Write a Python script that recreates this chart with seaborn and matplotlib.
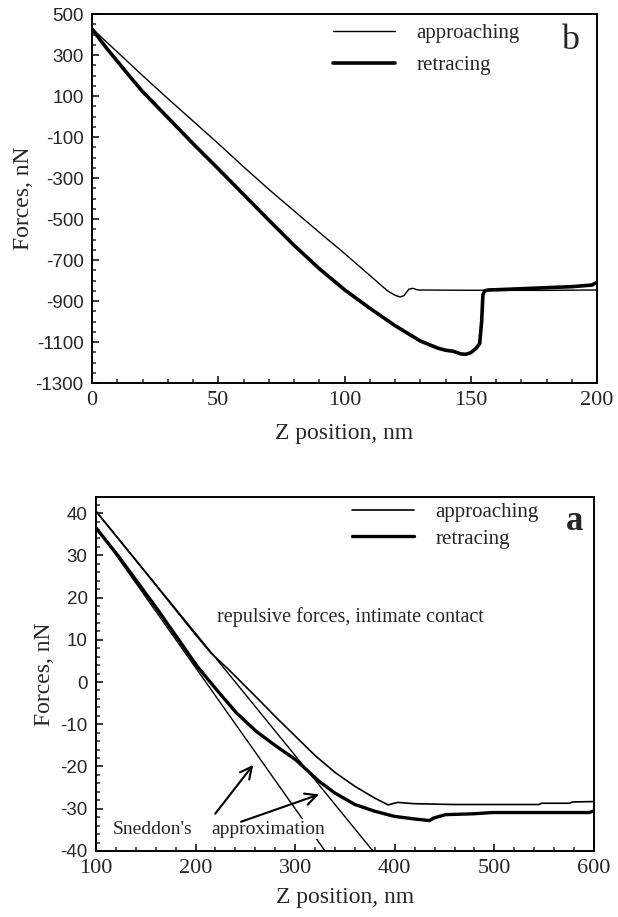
import seaborn as sns
import matplotlib.pyplot as plt
import numpy as np

# ---- panel b (top) ----
b_app_z = [0, 5, 10, 20, 30, 40, 50, 60, 70, 80, 90, 100, 110, 117, 120, 122, 123.5, 124.5, 125.5, 127, 129, 140, 160, 180, 200]
b_app_f = [430, 372, 315, 200, 88, -22, -132, -245, -355, -460, -565, -668, -775, -850, -872, -880, -874, -858, -842, -838, -846, -847, -848, -848, -846]
b_ret_z = [0, 3, 6, 10, 15, 20, 30, 40, 50, 60, 70, 80, 90, 100, 110, 120, 130, 137, 140, 143, 146, 148, 150, 152, 153.5, 154.3, 154.8, 155.5, 157, 160, 170, 180, 190, 198, 200]
b_ret_f = [428, 378, 330, 270, 195, 122, -5, -132, -255, -380, -505, -628, -742, -845, -935, -1020, -1095, -1130, -1140, -1145, -1158, -1160, -1152, -1132, -1108, -1000, -870, -850, -846, -845, -840, -835, -830, -822, -808]

# ---- panel a (bottom) ----
a_app_z = [100, 150, 200, 215, 233, 250, 261, 281, 300.5, 320, 340, 360, 380, 393.5, 399.5, 403, 419, 459, 545, 547, 576, 578, 600]
a_app_f = [40.4, 25.9, 11.2, 7.0, 3.0, -1.0, -3.6, -8.4, -12.9, -17.4, -21.4, -24.7, -27.5, -29.1, -28.7, -28.5, -28.8, -29.0, -29.0, -28.7, -28.7, -28.4, -28.3]
a_ret_z = [100, 122.5, 162, 201.7, 221, 241, 261, 281, 300.5, 324, 340, 360, 380, 399.5, 419, 435, 439, 451, 478.5, 498, 550, 595, 600]
a_ret_f = [36.5, 29.8, 17.1, 3.7, -1.8, -7.3, -11.7, -15.2, -18.4, -23.5, -26.3, -29.0, -30.6, -31.8, -32.4, -32.8, -32.2, -31.4, -31.2, -30.9, -30.9, -30.9, -30.5]
sneddon1_z = [100, 330]
sneddon1_f = [36.8, -40]
sneddon2_z = [100, 378]
sneddon2_f = [40.5, -40]

sns.set_theme(style='ticks')
plt.rcParams['font.family'] = ['Liberation Serif', 'DejaVu Serif']
plt.rcParams['axes.linewidth'] = 1.4
plt.rcParams['axes.unicode_minus'] = False

fig = plt.figure(figsize=(6.18, 9.17), dpi=100)
ax1 = fig.add_axes([0.1489, 0.5823, 0.8172, 0.4024])
ax2 = fig.add_axes([0.1553, 0.0720, 0.8058, 0.3860])

sns.lineplot(x=b_app_z, y=b_app_f, ax=ax1, color='black', linewidth=1.0, sort=False, estimator=None, label='approaching')
sns.lineplot(x=b_ret_z, y=b_ret_f, ax=ax1, color='black', linewidth=2.6, sort=False, estimator=None, label='retracing')

sns.lineplot(x=a_app_z, y=a_app_f, ax=ax2, color='black', linewidth=1.2, sort=False, estimator=None, label='approaching')
sns.lineplot(x=a_ret_z, y=a_ret_f, ax=ax2, color='black', linewidth=2.4, sort=False, estimator=None, label='retracing')
sns.lineplot(x=sneddon1_z, y=sneddon1_f, ax=ax2, color='black', linewidth=1.0, estimator=None)
sns.lineplot(x=sneddon2_z, y=sneddon2_f, ax=ax2, color='black', linewidth=1.0, estimator=None)

ax1.set_xlim(0, 200)
ax1.set_ylim(-1300, 500)
ax1.set_xticks(np.arange(0, 201, 50))
ax1.set_xticks(np.arange(0, 201, 10), minor=True)
ax1.set_yticks(np.arange(-1300, 501, 200))
ax1.set_yticks(np.arange(-1300, 501, 50), minor=True)

ax2.set_xlim(100, 600)
ax2.set_ylim(-40, 43.8)
ax2.set_xticks(np.arange(100, 601, 100))
ax2.set_xticks(np.arange(100, 601, 20), minor=True)
ax2.set_yticks(np.arange(-40, 41, 10))
ax2.set_yticks(np.arange(-40, 43, 2), minor=True)

for ax, lp, yp in ((ax1, 9, 1), (ax2, 6, 4)):
    ax.set_xlabel('Z position, nm', fontsize=17, labelpad=lp)
    ax.set_ylabel('Forces, nN', fontsize=17, labelpad=yp)
    ax.tick_params(which='major', direction='in', length=5, width=1.3, top=False, right=False)
    ax.tick_params(which='minor', direction='in', length=3, width=1.1, top=False, right=False)
    ax.tick_params(axis='x', labelsize=16, pad=6)
    ax.tick_params(axis='y', labelsize=13.5, pad=6)
    for lbl in ax.get_yticklabels():
        lbl.set_fontfamily('Liberation Sans')
    for s in ax.spines.values():
        s.set_visible(True)
        s.set_color('black')

leg1 = ax1.legend(loc='upper left', bbox_to_anchor=(0.477, 0.975), frameon=False,
                  fontsize=15, handlelength=3.0, handletextpad=1.0, labelspacing=0.6,
                  borderpad=0, borderaxespad=0)
leg2 = ax2.legend(loc='upper left', bbox_to_anchor=(0.514, 0.985), frameon=False,
                  fontsize=15, handlelength=3.0, handletextpad=1.0, labelspacing=0.35,
                  borderpad=0, borderaxespad=0)

ax1.text(189.3, 373, 'b', fontsize=26, ha='center', va='center')
ax2.text(581, 37.9, 'a', fontsize=25, fontweight='bold', ha='center', va='center')

ax2.text(221.5, 15.4, 'repulsive forces, intimate contact', fontsize=14.5, ha='left', va='center')
ax2.text(117, -34.8, "Sneddon's", fontsize=14, ha='left', va='center')
ax2.text(216, -34.8, 'approximation', fontsize=14, ha='left', va='center',
         bbox=dict(facecolor='white', edgecolor='none', pad=1))

arrow = dict(arrowstyle='->,head_length=0.7,head_width=0.35', color='black', lw=1.5)
ax2.annotate('', xy=(259.6, -19.1), xytext=(218, -31.7), arrowprops=arrow)
ax2.annotate('', xy=(326.6, -26.4), xytext=(243, -33.3), arrowprops=arrow)

fig.savefig('out.png', dpi=100)
